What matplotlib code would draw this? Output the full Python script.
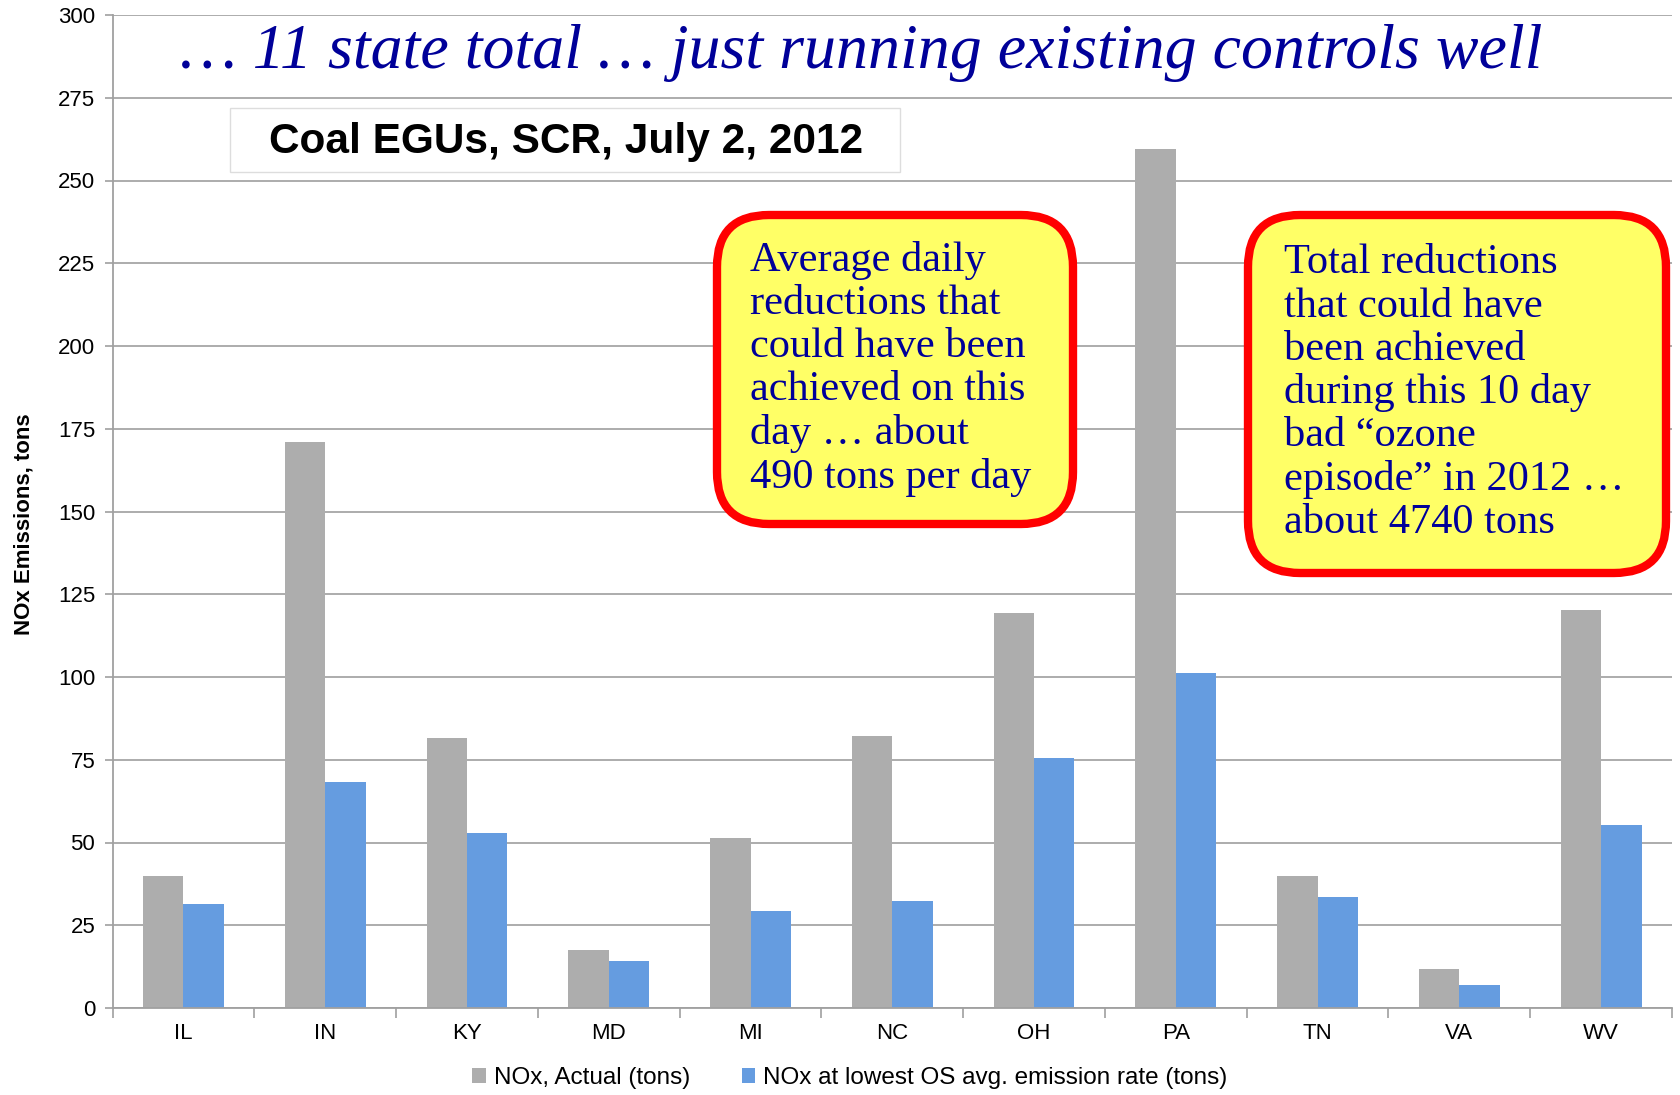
import numpy as np
import matplotlib.pyplot as plt
from matplotlib.patches import FancyBboxPatch, Rectangle
from matplotlib.transforms import IdentityTransform

# NOx emissions from coal EGUs with SCR, July 2, 2012
states = ["IL", "IN", "KY", "MD", "MI", "NC", "OH", "PA", "TN", "VA", "WV"]
nox_actual = [39.8, 171.0, 81.6, 17.5, 51.5, 82.3, 119.2, 259.5, 39.8, 11.7, 120.2]
nox_lowest_rate = [31.4, 68.4, 52.8, 14.3, 29.2, 32.4, 75.5, 101.1, 33.4, 6.8, 55.4]

yticks = np.arange(0, 301, 25)

W, H = 1681, 1095
fig = plt.figure(figsize=(W / 100, H / 100), dpi=100)
ax = fig.add_axes([112.6 / W, 1 - 1008 / H, (1672 - 112.6) / W, (1008 - 15) / H])

x = np.arange(len(states))
bw = 0.285
ax.bar(x - bw / 2, nox_actual, bw, color="#ADADAD", label="NOx, Actual (tons)", zorder=2)
ax.bar(x + bw / 2, nox_lowest_rate, bw, color="#659CE0",
       label="NOx at lowest OS avg. emission rate (tons)", zorder=2)

ax.set_xlim(-0.5, len(states) - 0.5)
ax.set_ylim(0, 300)
ax.set_yticks(yticks)
ax.set_yticklabels([str(v) for v in yticks], fontsize=16, family="Liberation Sans")
ax.set_xticks(x)
ax.set_xticklabels(states, fontsize=16, family="Liberation Sans")
ax.set_xticks(np.arange(-0.5, len(states)), minor=True)
ax.tick_params(axis="x", which="major", length=0, pad=11)
ax.tick_params(axis="x", which="minor", length=7, color="#A0A0A0", width=1.2)
ax.tick_params(axis="y", length=6, color="#A0A0A0", width=1.2, pad=6.5)
ax.yaxis.grid(True, color="#A6A6A6", linewidth=1.3, zorder=0)
ax.set_axisbelow(True)
for s in ["top", "right"]:
    ax.spines[s].set_visible(False)
for s in ["left", "bottom"]:
    ax.spines[s].set_color("#A0A0A0")
    ax.spines[s].set_linewidth(1.3)

fig.text(24 / W, 1 - 524 / H, "NOx Emissions, tons", rotation=90, ha="center", va="center",
         fontsize=16, fontweight="bold", family="Liberation Sans")

fig.legend(loc="center", bbox_to_anchor=(850 / W, 1 - 1078 / H), ncol=2, frameon=False,
           prop={"family": "Liberation Sans", "size": 17.5}, handlelength=0.55, handleheight=0.55,
           handletextpad=0.35, columnspacing=2.1)

# headline
navy = "#000099"
fig.text(861 / W, 1 - 53 / H, "\u2026 11 state total \u2026 just running existing controls well",
         ha="center", va="center", fontsize=46, style="italic", color=navy,
         family="Liberation Serif")

# subtitle box
fig.patches.append(Rectangle((230, H - 172), 670, 64, transform=IdentityTransform(),
                             facecolor="white", edgecolor="#DDDDDD", linewidth=1, zorder=5))
fig.text(566 / W, 1 - 142 / H, "Coal EGUs, SCR, July 2, 2012", ha="center", va="center",
         fontsize=30.5, fontweight="bold", family="Liberation Sans", zorder=6)

# callout boxes
callouts = [
    ((713, 211, 1077, 528), 750, 369,
     "Average daily\nreductions that\ncould have been\nachieved on this\nday \u2026 about\n490 tons per day"),
    ((1244, 211, 1670, 577), 1284, 393,
     "Total reductions\nthat could have\nbeen achieved\nduring this 10 day\nbad \u201cozone\nepisode\u201d in 2012 \u2026\nabout 4740 tons"),
]
for (x0, y0, x1, y1), tx, ty, txt in callouts:
    fig.patches.append(FancyBboxPatch((x0 + 4, H - y1 + 4), x1 - x0 - 8, y1 - y0 - 8,
                                      boxstyle="round,pad=0,rounding_size=52",
                                      transform=IdentityTransform(), facecolor="#FFFF66",
                                      edgecolor="#FF0000", linewidth=6, zorder=5))
    fig.text(tx / W, 1 - ty / H, txt, ha="left", va="center", fontsize=30.5, color=navy,
             family="Liberation Serif", linespacing=1.155, zorder=6)

fig.savefig("out.png", dpi=100)
